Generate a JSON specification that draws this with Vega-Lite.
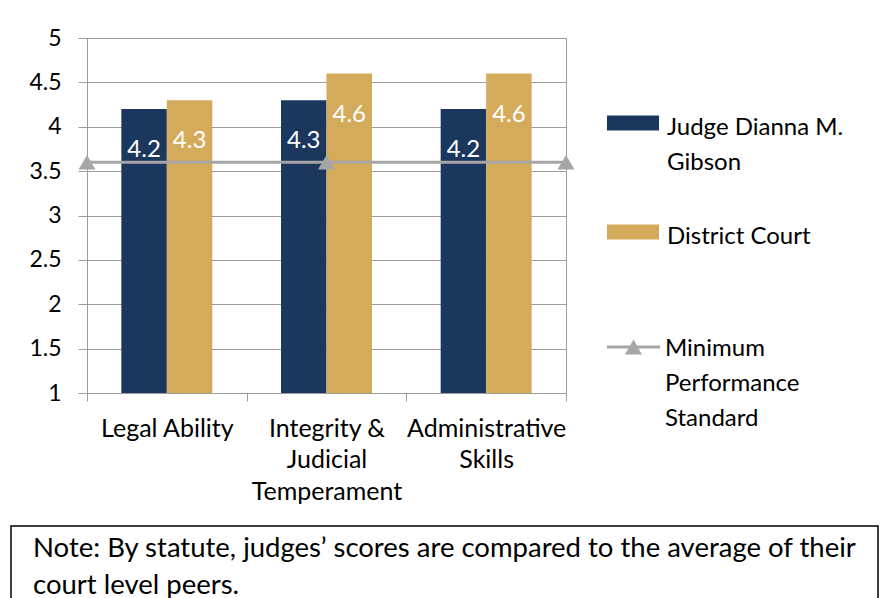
{
  "$schema": "https://vega.github.io/schema/vega-lite/v6.json",
  "padding": {"left": 10, "top": 26, "right": 0, "bottom": 0},
  "background": "white",
  "spacing": 20,
  "config": {
    "font": "Lato",
    "axis": {"labelFont": "Lato", "labelColor": "#000000", "labelFontSize": 23, "domainColor": "#9d9d9d", "tickColor": "#9d9d9d", "gridColor": "#9d9d9d", "domainWidth": 1, "tickWidth": 1, "gridWidth": 1},
    "legend": {"labelFont": "Lato", "labelFontSize": 24, "labelColor": "#000000"},
    "style": {"guide-label": {"lineHeight": 35}}
  },
  "vconcat": [
    {
      "spacing": 0,
      "hconcat": [
        {
          "width": 17,
          "height": 1,
          "view": {"stroke": null},
          "data": {"values": []},
          "mark": "point",
          "encoding": {}
        },
        {
          "width": 479,
          "height": 355,
          "view": {"stroke": "#9d9d9d", "strokeWidth": 1},
          "layer": [
            {
              "data": {"values": [
                {"category": "Legal Ability", "series": "Judge Dianna M. Gibson", "score": 4.2},
                {"category": "Legal Ability", "series": "District Court", "score": 4.3},
                {"category": "Integrity & Judicial Temperament", "series": "Judge Dianna M. Gibson", "score": 4.3},
                {"category": "Integrity & Judicial Temperament", "series": "District Court", "score": 4.6},
                {"category": "Administrative Skills", "series": "Judge Dianna M. Gibson", "score": 4.2},
                {"category": "Administrative Skills", "series": "District Court", "score": 4.6}
              ]},
              "layer": [
                {
                  "mark": {"type": "bar"},
                  "encoding": {
                    "x": {"field": "category", "type": "nominal", "sort": null, "scale": {"paddingInner": 0, "paddingOuter": 0},
                      "axis": {"title": null, "tickBand": "extent", "tickSize": 8, "labelPadding": 15, "labelAngle": 0, "labelLimit": 400, "labelLineHeight": 31.5, "labelFontSize": 25, "grid": false,
                        "labelExpr": "datum.label == 'Integrity & Judicial Temperament' ? ['Integrity &', 'Judicial', 'Temperament'] : datum.label == 'Administrative Skills' ? ['Administrative', 'Skills'] : datum.label"}},
                    "xOffset": {"field": "series", "type": "nominal", "sort": ["Judge Dianna M. Gibson", "District Court"], "scale": {"paddingInner": 0, "paddingOuter": 0.755}},
                    "y": {"field": "score", "type": "quantitative", "scale": {"domain": [1, 5], "nice": false, "zero": false},
                      "axis": {"values": [1, 1.5, 2, 2.5, 3, 3.5, 4, 4.5, 5], "labelExpr": "'' + datum.value", "labelFontSize": 23, "grid": true, "tickSize": 9, "labelPadding": 17, "title": null}},
                    "y2": {"datum": 1},
                    "color": {"field": "series", "type": "nominal", "scale": {"domain": ["Judge Dianna M. Gibson", "District Court"], "range": ["#1b375e", "#d4aa5b"]},
                      "legend": {"title": null, "orient": "none", "legendX": 534, "legendY": 66, "padding": 0, "symbolType": "M-3.47,-0.067H3.47V1.933H-3.47Z", "symbolSize": 225, "symbolStrokeWidth": 0, "symbolOpacity": 1, "labelOffset": 22, "labelBaseline": "top", "labelLimit": 400, "rowPadding": 38,
                        "labelExpr": "datum.label == 'Judge Dianna M. Gibson' ? ['Judge Dianna M.', 'Gibson'] : datum.label"}}
                  }
                },
                {
                  "mark": {"type": "text", "baseline": "alphabetic", "dy": 48, "color": "#ffffff", "fontSize": 24},
                  "encoding": {
                    "x": {"field": "category", "type": "nominal", "sort": null, "scale": {"paddingInner": 0, "paddingOuter": 0}},
                    "xOffset": {"field": "series", "type": "nominal", "sort": ["Judge Dianna M. Gibson", "District Court"], "scale": {"paddingInner": 0, "paddingOuter": 0.755}},
                    "y": {"field": "score", "type": "quantitative"},
                    "text": {"field": "score", "type": "quantitative", "format": ".1f"}
                  }
                }
              ]
            },
            {
              "data": {"values": [
                {"category": "Legal Ability", "series": "Minimum Performance Standard", "score": 3.6},
                {"category": "Integrity & Judicial Temperament", "series": "Minimum Performance Standard", "score": 3.6},
                {"category": "Administrative Skills", "series": "Minimum Performance Standard", "score": 3.6}
              ]},
              "layer": [
                {
                  "mark": {"type": "line", "color": "#a6a6a6", "strokeWidth": 3},
                  "encoding": {
                    "x": {"field": "category", "type": "nominal", "sort": null, "scale": {"type": "point", "padding": 0}, "axis": null},
                    "y": {"field": "score", "type": "quantitative", "scale": {"domain": [1, 5], "nice": false, "zero": false},
                      "axis": {"values": [1, 1.5, 2, 2.5, 3, 3.5, 4, 4.5, 5], "labelExpr": "'' + datum.value", "labelFontSize": 23, "grid": true, "tickSize": 9, "labelPadding": 17, "title": null}}
                  }
                },
                {
                  "mark": {"type": "point", "shape": "triangle-up", "filled": true, "size": 289, "opacity": 1, "strokeWidth": 0},
                  "encoding": {
                    "x": {"field": "category", "type": "nominal", "sort": null},
                    "y": {"field": "score", "type": "quantitative"},
                    "color": {"field": "series", "type": "nominal", "scale": {"range": ["#a6a6a6"]},
                      "legend": {"title": null, "orient": "none", "legendX": 534.5, "legendY": 287, "padding": 0, "symbolType": "M-3.53,1.13H3.53V1.53H-3.53Z M0,0.33L1.13,2.33H-1.13Z", "symbolSize": 225, "symbolStrokeWidth": 0, "symbolOpacity": 1, "labelOffset": 19.5, "labelBaseline": "top", "labelLimit": 400,
                        "labelExpr": "['Minimum', 'Performance', 'Standard']"}}
                  }
                }
              ]
            }
          ],
          "resolve": {"scale": {"x": "independent", "color": "independent"}, "axis": {"x": "independent"}}
        }
      ]
    },
    {
      "width": 867,
      "height": 90,
      "view": {"stroke": "#000000", "strokeWidth": 1.5},
      "data": {"values": [
        {"note": ["Note: By statute, judges’ scores are compared to the average of their", "court level peers."]}
      ]},
      "mark": {"type": "text", "align": "left", "baseline": "alphabetic", "dx": 22, "dy": 31, "fontSize": 27.5, "lineHeight": 37, "color": "#000000"},
      "encoding": {
        "x": {"datum": 0, "type": "quantitative", "scale": {"domain": [0, 1]}, "axis": null},
        "y": {"datum": 1, "type": "quantitative", "scale": {"domain": [0, 1]}, "axis": null},
        "text": {"field": "note"}
      }
    }
  ]
}
